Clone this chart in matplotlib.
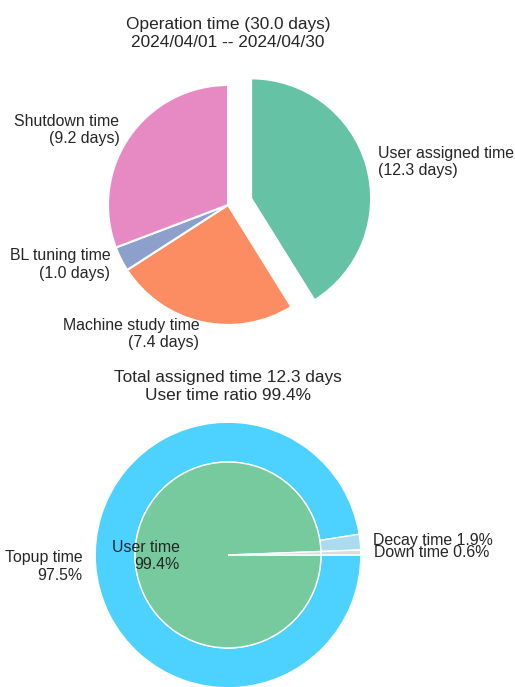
import matplotlib
matplotlib.use("Agg")
import matplotlib.pyplot as plt
import seaborn as sns

sns.set_theme(style="white")
plt.rcParams['font.family'] = ['Liberation Sans', 'DejaVu Sans']
plt.rcParams['xtick.labelsize'] = 11.4

# operation summary
op_labels = ['User assigned time', 'Machine study time', 'BL tuning time', 'Shutdown time']
op_days = [12.3, 7.4, 1.0, 9.2]
op_colors = ['#66c2a5', '#fc8d62', '#8da0cb', '#e78ac3']
op_title = 'Operation time (30.0 days)\n2024/04/01 -- 2024/04/30'

# user time breakdown
ring_labels = ['Topup time', 'Decay time', 'Down time']
ring_pct = [97.5, 1.9, 0.6]
ring_colors = ['#4dd2ff', '#abdcee', '#dcdcdc']
inner_labels = ['User time', '']
inner_pct = [99.4, 0.6]
inner_colors = ['#77ca9d', '#dcdcdc']
user_title = 'Total assigned time 12.3 days\nUser time ratio 99.4%'

fig = plt.figure(figsize=(5.15, 6.87), dpi=100)

# top pie
ax1 = fig.add_axes([0.1515, 0.4833, 0.5825, 0.4367])
ax1.pie(op_days,
        labels=[f'{l}\n({d:.1f} days)' for l, d in zip(op_labels, op_days)],
        colors=op_colors, explode=[0.2, 0, 0, 0], startangle=90,
        counterclock=False, wedgeprops=dict(edgecolor='white', linewidth=1.5))
ax1.set_title(op_title, fontsize=12.4)

# bottom donut + inner pie
ax2 = fig.add_axes([0.1204, -0.0495, 0.6447, 0.4833])
ax2.pie(ring_pct,
        labels=[f'{l}\n{p}%' if i == 0 else f'{l} {p}%' for i, (l, p) in enumerate(zip(ring_labels, ring_pct))],
        colors=ring_colors, startangle=0, counterclock=False, radius=1.0,
        wedgeprops=dict(width=0.3, edgecolor='white', linewidth=1))
ax2.pie(inner_pct,
        labels=[f'{inner_labels[0]}\n{inner_pct[0]}%', ''],
        colors=inner_colors, startangle=0, counterclock=False, radius=0.7,
        labeldistance=0.52, wedgeprops=dict(edgecolor='white', linewidth=1))
ax2.set_xlim(-1.25, 1.25)
ax2.set_ylim(-1.25, 1.25)
ax2.set_title(user_title, fontsize=12.4, y=0.943)

fig.savefig('out.png', dpi=100)
